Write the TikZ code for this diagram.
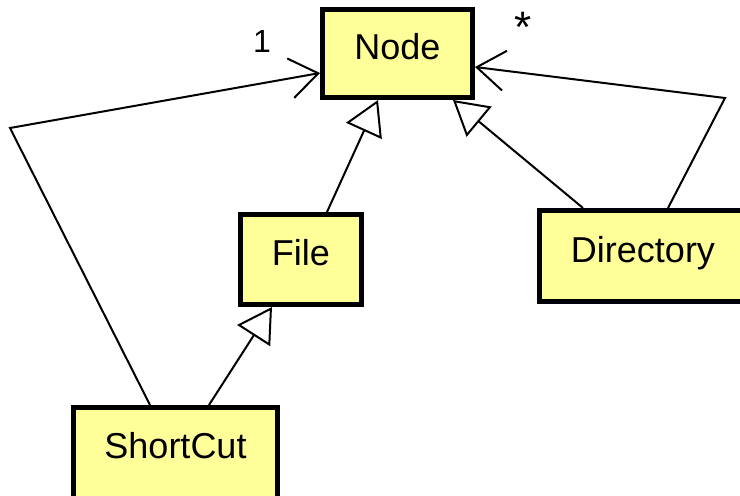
\documentclass[tikz,border=0pt]{standalone}
\usepackage{fontspec}
\setmainfont{Liberation Sans}
\usetikzlibrary{arrows.meta}
\definecolor{classfill}{RGB}{255,255,153}
\tikzset{
  classbox/.style={draw=black, line width=5pt, fill=classfill, inner sep=0pt,
    font=\fontsize{36}{40}\selectfont, text height=26pt, text depth=14pt},
  assoc/.style={line width=2pt, -{Straight Barb[length=28pt,width=40pt,line width=2pt]}},
  inherit/.style={line width=2pt, -{Triangle[open,fill=white,length=34pt,width=39pt,line width=2pt]}},
  mult/.style={inner sep=0pt, font=\fontsize{32}{36}\selectfont}
}
\begin{document}
\begin{tikzpicture}[x=1pt,y=-1pt]
\useasboundingbox (0,0) rectangle (740,496);
\node[classbox, minimum width=150pt, minimum height=88pt] (node) at (397.5,53.5) {Node};
\node[classbox, minimum width=121pt, minimum height=90pt] (file) at (301,259.5) {File};
\node[classbox, minimum width=204pt, minimum height=95pt, text depth=20pt] (sc) at (175.5,455) {ShortCut};
\node[classbox, minimum width=207pt, minimum height=91pt] (dir) at (643,256) {Directory};
\coordinate (c1) at (10,128);
\coordinate (c2) at (725,98);
\draw[assoc] ([xshift=-25.5pt]sc.north) -- (c1) -- ([yshift=-19.5pt]node.west);
\draw[assoc] ([xshift=25pt]dir.north) -- (c2) -- ([yshift=-13.5pt]node.east);
\draw[inherit] ([xshift=33.5pt]sc.north) -- ([xshift=-29pt]file.south);
\draw[inherit] ([xshift=26pt]file.north) -- ([xshift=-19.5pt]node.south);
\draw[inherit] ([xshift=-60pt]dir.north) -- ([xshift=55.5pt]node.south);
\node[mult] (one) at (262,41.5) {1};
\node[mult, font=\fontsize{44}{48}\selectfont] (many) at (523.5,27.5) {*};
\end{tikzpicture}
\end{document}
